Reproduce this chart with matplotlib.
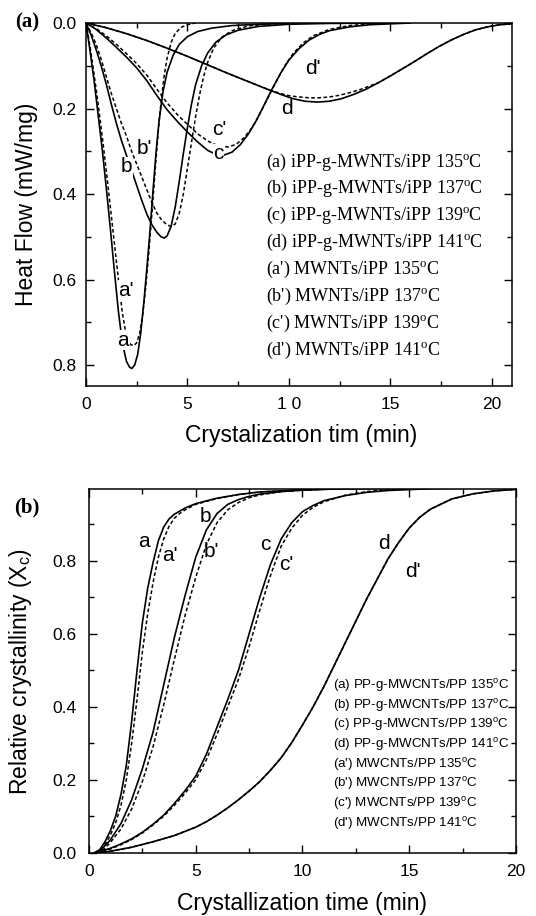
import matplotlib
matplotlib.use("Agg")
import matplotlib.pyplot as plt
from matplotlib.ticker import MultipleLocator, FixedLocator, FixedFormatter

plt.rcParams['font.family'] = ['Liberation Sans', 'DejaVu Sans']

# ----------------- (a) isothermal DSC exotherms -----------------
t_a = [0, 0.2, 0.4, 0.6, 0.8, 1.0, 1.2, 1.4, 1.6, 1.8, 2.0, 2.15, 2.26, 2.4, 2.55, 2.7, 2.85, 3.0,
       3.15, 3.3, 3.45, 3.6, 3.8, 4.0, 4.3, 4.6, 5.0, 5.5, 6.2, 7.2, 8.5, 10.0]
hf_a = [0, 0.065, 0.135, 0.215, 0.295, 0.385, 0.48, 0.58, 0.675, 0.75, 0.792, 0.805, 0.808, 0.8, 0.775,
        0.725, 0.655, 0.575, 0.49, 0.395, 0.305, 0.23, 0.16, 0.115, 0.075, 0.05, 0.032, 0.02, 0.012,
        0.006, 0.003, 0.001]
t_a2 = [0, 0.2, 0.4, 0.6, 0.8, 1.0, 1.2, 1.4, 1.6, 1.8, 2.0, 2.2, 2.35, 2.5, 2.65, 2.8, 2.95, 3.1,
        3.25, 3.4, 3.55, 3.7, 3.85, 4.0, 4.2, 4.4, 4.7, 5.0, 5.4]
hf_a2 = [0, 0.055, 0.12, 0.19, 0.265, 0.345, 0.43, 0.515, 0.6, 0.68, 0.735, 0.752, 0.755, 0.748,
         0.725, 0.68, 0.615, 0.535, 0.445, 0.35, 0.26, 0.185, 0.125, 0.082, 0.045, 0.024, 0.01,
         0.004, 0.0]
t_b = [0, 0.25, 0.5, 0.75, 1.0, 1.25, 1.5, 1.75, 2.0, 2.25, 2.5, 2.75, 3.0, 3.25, 3.5, 3.7, 3.85,
       4.0, 4.2, 4.4, 4.6, 4.8, 5.0, 5.2, 5.4, 5.7, 6.0, 6.4, 6.9, 7.5, 8.5, 10, 12, 15]
hf_b = [0, 0.028, 0.062, 0.1, 0.143, 0.19, 0.235, 0.275, 0.31, 0.345, 0.38, 0.415, 0.447, 0.472,
        0.49, 0.5, 0.503, 0.498, 0.475, 0.43, 0.37, 0.305, 0.245, 0.19, 0.145, 0.1, 0.07, 0.045,
        0.028, 0.017, 0.008, 0.003, 0.001, 0.0]
t_b2 = [0, 0.25, 0.5, 0.75, 1.0, 1.25, 1.5, 1.75, 2.0, 2.25, 2.5, 2.75, 3.0, 3.25, 3.5, 3.75, 4.0,
        4.2, 4.4, 4.6, 4.8, 5.0, 5.2, 5.4, 5.6, 5.8, 6.0, 6.3, 6.7, 7.2, 8.0, 9.0, 10.5]
hf_b2 = [0, 0.022, 0.05, 0.085, 0.125, 0.165, 0.2, 0.235, 0.265, 0.3, 0.33, 0.36, 0.39, 0.42,
         0.445, 0.462, 0.472, 0.476, 0.47, 0.445, 0.4, 0.34, 0.28, 0.22, 0.168, 0.125, 0.092,
         0.058, 0.033, 0.018, 0.007, 0.002, 0.0]
t_c = [0, 0.5, 1.0, 1.5, 2.0, 2.5, 3.0, 3.5, 4.0, 4.5, 5.0, 5.5, 6.0, 6.4, 6.8, 7.2, 7.6, 8.0, 8.4,
       8.8, 9.2, 9.6, 10.0, 10.5, 11.0, 11.5, 12, 13, 14, 15, 16]
hf_c = [0, 0.015, 0.035, 0.057, 0.08, 0.105, 0.135, 0.17, 0.203, 0.23, 0.255, 0.278, 0.298, 0.307,
        0.309, 0.302, 0.285, 0.26, 0.228, 0.19, 0.152, 0.117, 0.087, 0.06, 0.04, 0.027, 0.018,
        0.009, 0.004, 0.002, 0.0]
t_c2 = [0, 0.5, 1.0, 1.5, 2.0, 2.5, 3.0, 3.5, 4.0, 4.5, 5.0, 5.5, 6.0, 6.5, 7.0, 7.4, 7.8, 8.2,
        8.6, 9.0, 9.4, 9.8, 10.2, 10.7, 11.2, 12, 13, 14, 15]
hf_c2 = [0, 0.013, 0.03, 0.05, 0.072, 0.095, 0.122, 0.155, 0.187, 0.214, 0.237, 0.259, 0.276,
         0.287, 0.29, 0.284, 0.268, 0.244, 0.21, 0.172, 0.135, 0.1, 0.072, 0.047, 0.03, 0.015,
         0.006, 0.002, 0.0]
t_d = [0, 1, 2, 3, 4, 5, 6, 7, 8, 9, 9.6, 10.2, 10.8, 11.4, 12.0, 12.6, 13.2, 13.8, 14.4, 15.0,
       15.6, 16.2, 16.8, 17.4, 18.0, 18.6, 19.2, 19.8, 20.4, 21.0]
hf_d = [0, 0.011, 0.025, 0.041, 0.059, 0.078, 0.098, 0.118, 0.137, 0.156, 0.167, 0.177, 0.183,
        0.185, 0.183, 0.177, 0.167, 0.155, 0.14, 0.124, 0.107, 0.09, 0.072, 0.055, 0.04, 0.027,
        0.016, 0.009, 0.004, 0.002]
t_d2 = [0, 1, 2, 3, 4, 5, 6, 7, 8, 9, 9.6, 10.0, 10.5, 11.0, 11.5, 12.0, 12.5, 13.0, 13.5, 14.0,
        14.4, 15.0, 15.6, 16.2, 16.8, 17.4, 18.0, 18.6, 19.2, 19.8, 20.4, 21.0]
hf_d2 = [0, 0.011, 0.025, 0.041, 0.059, 0.078, 0.098, 0.118, 0.137, 0.156, 0.165, 0.17, 0.173,
         0.175, 0.175, 0.173, 0.169, 0.163, 0.156, 0.147, 0.14, 0.124, 0.107, 0.09, 0.072, 0.055,
         0.04, 0.027, 0.016, 0.009, 0.004, 0.002]

labels_a = ["a", "a'", "b", "b'", "c", "c'", "d", "d'"]
label_x_a = [1.84, 1.98, 2.0, 2.9, 6.52, 6.55, 9.92, 11.2]
label_y_a = [0.742, 0.625, 0.336, 0.293, 0.306, 0.25, 0.2, 0.106]
legend_a = ["(a) iPP-g-MWNTs/iPP 135", "(b) iPP-g-MWNTs/iPP 137", "(c) iPP-g-MWNTs/iPP 139",
            "(d) iPP-g-MWNTs/iPP 141", "(a') MWNTs/iPP 135", "(b') MWNTs/iPP 137",
            "(c') MWNTs/iPP 139", "(d') MWNTs/iPP 141"]

# ----------------- (b) relative crystallinity -----------------
t2_a = [0.25, 0.5, 0.75, 1.0, 1.25, 1.5, 1.75, 2.0, 2.25, 2.5, 2.75, 3.0, 3.25, 3.5, 3.75, 4.0,
        4.5, 5, 6, 7, 8, 10, 12, 14]
x2_a = [0, 0.008, 0.03, 0.06, 0.1, 0.16, 0.24, 0.36, 0.5, 0.63, 0.725, 0.795, 0.855, 0.893,
        0.915, 0.928, 0.945, 0.957, 0.972, 0.982, 0.989, 0.995, 0.998, 0.999]
t2_a2 = [0.3, 0.5, 0.75, 1.0, 1.25, 1.5, 1.75, 2.0, 2.25, 2.5, 2.75, 3.0, 3.25, 3.5, 3.75, 4.0,
         4.25, 4.5, 5, 6, 7, 8, 10, 12]
x2_a2 = [0, 0.006, 0.022, 0.048, 0.082, 0.13, 0.2, 0.3, 0.42, 0.55, 0.655, 0.74, 0.81, 0.86,
         0.895, 0.917, 0.93, 0.94, 0.955, 0.971, 0.982, 0.989, 0.995, 0.998]
t2_b = [0.3, 0.6, 1.0, 1.5, 2.0, 2.5, 3.0, 3.5, 4.0, 4.5, 5.0, 5.5, 6.0, 6.5, 7, 7.5, 8, 9, 10,
        11, 12, 14, 16]
x2_b = [0, 0.01, 0.035, 0.08, 0.145, 0.23, 0.33, 0.46, 0.59, 0.705, 0.81, 0.885, 0.93, 0.955,
        0.968, 0.977, 0.983, 0.99, 0.994, 0.996, 0.998, 0.999, 1.0]
t2_b2 = [0.35, 0.7, 1.0, 1.5, 2.0, 2.5, 3.0, 3.5, 4.0, 4.5, 5.0, 5.5, 6.0, 6.5, 7, 7.5, 8, 9, 10,
         11, 12, 14]
x2_b2 = [0, 0.01, 0.028, 0.065, 0.12, 0.195, 0.29, 0.405, 0.53, 0.65, 0.755, 0.845, 0.905, 0.94,
         0.96, 0.973, 0.981, 0.99, 0.994, 0.997, 0.998, 1.0]
t2_c = [0.3, 1, 1.5, 2, 2.5, 3, 3.5, 4, 4.5, 5, 5.5, 6, 6.5, 7, 7.5, 8, 8.5, 9, 9.5, 10, 10.5, 11,
        12, 13, 14, 16, 18]
x2_c = [0, 0.012, 0.024, 0.038, 0.056, 0.078, 0.103, 0.135, 0.17, 0.21, 0.27, 0.345, 0.42, 0.5,
        0.6, 0.7, 0.79, 0.86, 0.905, 0.935, 0.952, 0.965, 0.979, 0.988, 0.993, 0.998, 1.0]
t2_c2 = [0.35, 1, 1.5, 2, 2.5, 3, 3.5, 4, 4.5, 5, 5.5, 6, 6.5, 7, 7.5, 8, 8.5, 9, 9.5, 10, 10.5,
         11, 12, 13, 14, 16, 18]
x2_c2 = [0, 0.01, 0.022, 0.036, 0.054, 0.076, 0.1, 0.13, 0.163, 0.2, 0.255, 0.325, 0.4, 0.475,
         0.565, 0.665, 0.76, 0.84, 0.89, 0.925, 0.947, 0.962, 0.98, 0.99, 0.995, 0.999, 1.0]
t2_d = [0.4, 1, 2, 3, 4, 5, 5.5, 6, 6.5, 7, 7.5, 8, 8.5, 9, 9.5, 10, 10.5, 11, 11.5, 12, 12.5, 13,
        13.5, 14, 14.5, 15, 15.5, 16, 17, 18, 19, 20]
x2_d = [0, 0.004, 0.015, 0.03, 0.047, 0.07, 0.085, 0.103, 0.123, 0.145, 0.169, 0.195, 0.226, 0.26,
        0.302, 0.35, 0.4, 0.455, 0.515, 0.575, 0.635, 0.695, 0.75, 0.805, 0.85, 0.89, 0.92, 0.942,
        0.97, 0.984, 0.992, 0.996]
t2_d2 = t2_d
x2_d2 = x2_d

labels_b = ["a", "a'", "b", "b'", "c", "c'", "d", "d'"]
label_x_b = [2.56, 3.78, 5.46, 5.74, 8.24, 9.25, 13.82, 15.19]
label_y_b = [0.853, 0.816, 0.923, 0.826, 0.844, 0.789, 0.849, 0.771]
legend_b = ["(a) PP-g-MWCNTs/PP 135", "(b) PP-g-MWCNTs/PP 137", "(c) PP-g-MWCNTs/PP 139",
            "(d) PP-g-MWCNTs/PP 141", "(a') MWCNTs/PP 135", "(b') MWCNTs/PP 137",
            "(c') MWCNTs/PP 139", "(d') MWCNTs/PP 141"]

deg = r"$^{\mathregular{o}}$C"
dash = (0, (2.4, 1.6))


def style_axes(ax):
    for s in ax.spines.values():
        s.set_linewidth(1.1)
    ax.tick_params(which='both', direction='in', top=True, right=True, width=1.0)
    ax.tick_params(which='major', length=6)
    ax.tick_params(which='minor', length=3.5)


fig = plt.figure(figsize=(5.36, 9.16), dpi=100)

# ---- panel (a)
ax1 = fig.add_axes([0.1604, 0.5786, 0.7948, 0.3963])
for t, h in [(t_a, hf_a), (t_b, hf_b), (t_c, hf_c), (t_d, hf_d)]:
    ax1.plot(t, h, color='k', lw=1.2, solid_joinstyle='round')
for t, h in [(t_a2, hf_a2), (t_b2, hf_b2), (t_c2, hf_c2), (t_d2, hf_d2)]:
    ax1.plot(t, h, color='k', lw=1.1, linestyle=dash)
for lab, lx, ly in zip(labels_a, label_x_a, label_y_a):
    ax1.text(lx, ly, lab, fontsize=15, ha='center', va='center', zorder=5,
             bbox=dict(facecolor='white', edgecolor='none', pad=0.3))
ax1.set_xlim(0, 21)
ax1.set_ylim(0.849, 0)
ax1.xaxis.set_major_locator(FixedLocator([0, 5, 10, 15, 20]))
ax1.xaxis.set_major_formatter(FixedFormatter(["0", "5", "1 0", "15", "20"]))
ax1.xaxis.set_minor_locator(MultipleLocator(2.5))
ax1.yaxis.set_major_locator(MultipleLocator(0.2))
ax1.yaxis.set_minor_locator(MultipleLocator(0.1))
ax1.yaxis.set_major_formatter(plt.FuncFormatter(lambda v, p: f"{v:.1f}"))
style_axes(ax1)
ax1.tick_params(axis='x', which='major', labelsize=12.5, pad=8)
ax1.tick_params(axis='y', which='major', labelsize=12.5, pad=7)
ax1.set_xlabel("Crystalization tim (min)", fontsize=16.5)
ax1.set_ylabel("Heat Flow (mW/mg)", fontsize=16.5)
ax1.xaxis.set_label_coords(0.506, -0.105)
ax1.yaxis.set_label_coords(-0.113, 0.5)
for i, txt in enumerate(legend_a):
    ax1.text(0.4225, 0.617 - i * 0.074, txt + deg, transform=ax1.transAxes, fontsize=13,
             family=['Liberation Serif', 'DejaVu Serif'], ha='left', va='center')

# ---- panel (b)
ax2 = fig.add_axes([0.166, 0.0691, 0.7966, 0.3974])
for t, x in [(t2_a, x2_a), (t2_b, x2_b), (t2_c, x2_c), (t2_d, x2_d)]:
    ax2.plot(t, x, color='k', lw=1.2, solid_joinstyle='round')
for t, x in [(t2_a2, x2_a2), (t2_b2, x2_b2), (t2_c2, x2_c2), (t2_d2, x2_d2)]:
    ax2.plot(t, x, color='k', lw=1.1, linestyle=dash)
for lab, lx, ly in zip(labels_b, label_x_b, label_y_b):
    ax2.text(lx, ly, lab, fontsize=15, ha='center', va='center', zorder=5)
ax2.set_xlim(0, 20)
ax2.set_ylim(0, 0.998)
ax2.xaxis.set_major_locator(MultipleLocator(5))
ax2.xaxis.set_minor_locator(MultipleLocator(2.5))
ax2.yaxis.set_major_locator(FixedLocator([0, 0.2, 0.4, 0.6, 0.8]))
ax2.yaxis.set_minor_locator(MultipleLocator(0.1))
ax2.yaxis.set_major_formatter(plt.FuncFormatter(lambda v, p: f"{v:.1f}"))
style_axes(ax2)
ax2.tick_params(axis='x', which='major', labelsize=12.5, pad=8)
ax2.tick_params(axis='y', which='major', labelsize=12.5, pad=9)
ax2.set_xlabel("Crystallization time (min)", fontsize=16.5)
ax2.set_ylabel(r"Relative crystallinity (X$_{\mathregular{c}}$)", fontsize=16.5)
ax2.xaxis.set_label_coords(0.5, -0.108)
ax2.yaxis.set_label_coords(-0.129, 0.498)
for i, txt in enumerate(legend_b):
    ax2.text(0.571, 0.459 - i * 0.054, txt + deg, transform=ax2.transAxes, fontsize=9.6,
             ha='left', va='center')

fig.text(0.05, 0.975, "(a)", fontsize=15, fontweight='bold', ha='center', va='center',
         family=['Liberation Serif', 'DejaVu Serif'])
fig.text(0.05, 0.4465, "(b)", fontsize=15, fontweight='bold', ha='center', va='center',
         family=['Liberation Serif', 'DejaVu Serif'])

fig.savefig("out.png", dpi=100)
